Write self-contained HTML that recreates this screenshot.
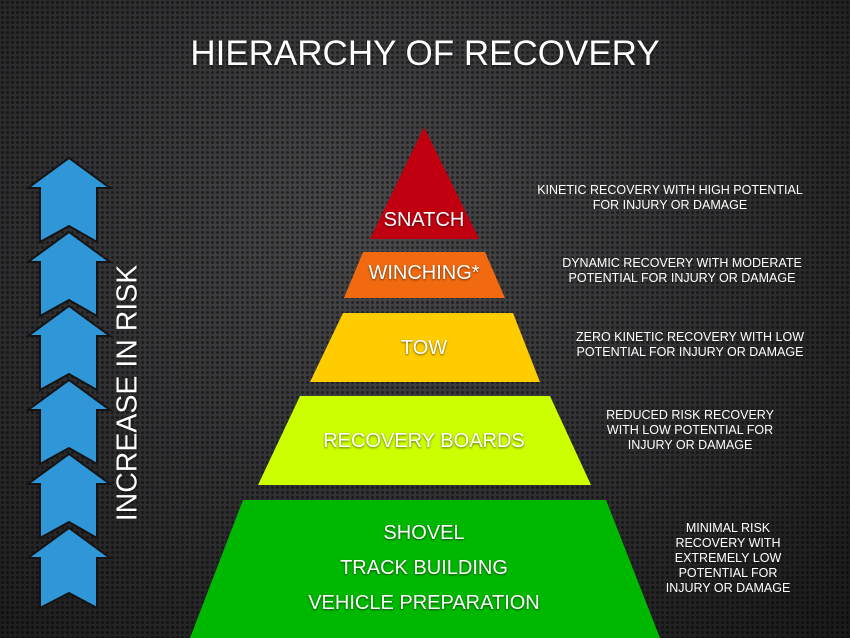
<!DOCTYPE html>
<html><head><meta charset="utf-8"><style>
html,body{margin:0;padding:0}
body{width:850px;height:638px;overflow:hidden;position:relative;font-family:"Liberation Sans",sans-serif;
background:radial-gradient(ellipse at 45% 35%,#4a4a4c 0%,#323234 45%,#19191a 100%);}
.dots{position:absolute;inset:0;background-image:radial-gradient(circle,rgba(0,0,0,0.45) 1.3px,transparent 1.8px);background-size:5px 5px}
.t{position:absolute;color:#fff;text-align:center;white-space:nowrap}
.r{position:absolute;color:#fff;font-size:12.5px;line-height:15px;text-align:center}
.sh{text-shadow:0 1px 2px rgba(0,0,0,.6)}
</style></head><body>
<div class="dots"></div>
<div class="t sh" style="left:0;width:850px;top:34px;font-size:35px">HIERARCHY OF RECOVERY</div>
<svg width="850" height="638" style="position:absolute;left:0;top:0">
<g fill="#2f96d8" stroke="#141414" stroke-width="2">
<polygon points="69,158 110,188 97,188 97,242 69,226 40,242 40,188 28,188"/>
<polygon points="69,232 110,262 97,262 97,316 69,300 40,316 40,262 28,262"/>
<polygon points="69,306 110,336 97,336 97,390 69,374 40,390 40,336 28,336"/>
<polygon points="69,380 110,410 97,410 97,464 69,448 40,464 40,410 28,410"/>
<polygon points="69,454 110,484 97,484 97,538 69,522 40,538 40,484 28,484"/>
<polygon points="69,528 110,558 97,558 97,608 69,593 40,608 40,558 28,558"/>
</g>
<polygon points="424,127 479,239 370,239" fill="#c00010"/>
<polygon points="363,252 485,252 505,298 344,298" fill="#f26a10"/>
<polygon points="343,313 513,313 540,382 310,382" fill="#ffcc00"/>
<polygon points="300,396 550,396 591,485 258,485" fill="#ccff00"/>
<polygon points="243,500 606,500 660,638 190,638" fill="#00b800"/>
</svg>
<div class="t sh" style="top:393px;font-size:28.5px;transform:translate(-50%,-50%) rotate(-90deg);left:128px">INCREASE IN RISK</div>
<div class="t sh" style="left:324px;width:200px;top:209px;font-size:20px">SNATCH</div>
<div class="t sh" style="left:324px;width:200px;top:262px;font-size:20px">WINCHING*</div>
<div class="t sh" style="left:324px;width:200px;top:337px;font-size:20px">TOW</div>
<div class="t sh" style="left:274px;width:300px;top:430px;font-size:20px">RECOVERY BOARDS</div>
<div class="t sh" style="left:274px;width:300px;top:522px;font-size:20px">SHOVEL</div>
<div class="t sh" style="left:274px;width:300px;top:557px;font-size:20px">TRACK BUILDING</div>
<div class="t sh" style="left:274px;width:300px;top:592px;font-size:20px">VEHICLE PREPARATION</div>
<div class="r" style="left:530px;width:280px;top:183px">KINETIC RECOVERY WITH HIGH POTENTIAL<br>FOR INJURY OR DAMAGE</div>
<div class="r" style="left:542px;width:280px;top:256px">DYNAMIC RECOVERY WITH MODERATE<br>POTENTIAL FOR INJURY OR DAMAGE</div>
<div class="r" style="left:550px;width:280px;top:330px">ZERO KINETIC RECOVERY WITH LOW<br>POTENTIAL FOR INJURY OR DAMAGE</div>
<div class="r" style="left:560px;width:260px;top:408px">REDUCED RISK RECOVERY<br>WITH LOW POTENTIAL FOR<br>INJURY OR DAMAGE</div>
<div class="r" style="left:648px;width:160px;top:521px">MINIMAL RISK<br>RECOVERY WITH<br>EXTREMELY LOW<br>POTENTIAL FOR<br>INJURY OR DAMAGE</div>
</body></html>
